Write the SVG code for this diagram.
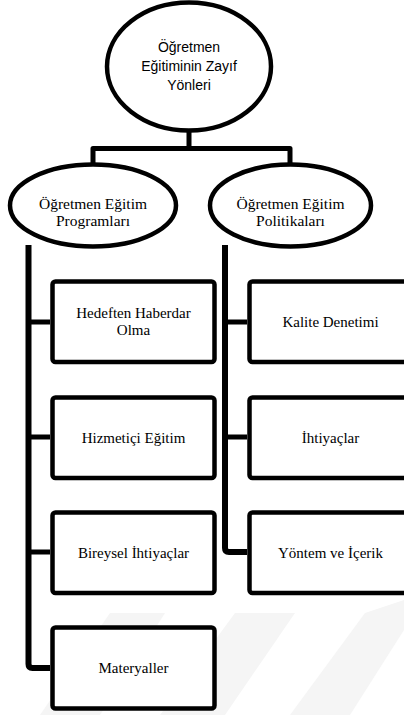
<svg xmlns="http://www.w3.org/2000/svg" width="404" height="715" viewBox="0 0 404 715">
<style>
.shape{fill:#fff;stroke:#000;stroke-width:4.5}
.conn{fill:none;stroke:#000;stroke-width:5;stroke-linejoin:round}
.wm{fill:#f5f5f5}
</style>
<rect width="404" height="715" fill="#fff"/>
<g id="watermark">
<polygon class="wm" points="40,715 100,715 165,613 110,613"/>
<polygon class="wm" points="160,715 225,715 295,613 235,613"/>
<polygon class="wm" points="290,715 350,715 404,630 404,600 365,613"/>
</g>
<g id="connectors">
<path class="conn" d="M189,131 V148.5 M93,164 V148.5 H290 V164"/>
<path class="conn" style="stroke-width:6" d="M28.5,245 V664 Q28.5,668 32.5,668 H50"/>
<path class="conn" d="M28.5,322 H50 M28.5,437 H50 M28.5,552 H50"/>
<path class="conn" style="stroke-width:6" d="M225,245 V548 Q225,552 229,552 H247"/>
<path class="conn" d="M225,322 H247 M225,437 H247"/>
</g>
<g id="root" font-family="'Liberation Sans', Arial, sans-serif" font-size="14" text-anchor="middle" fill="#000">
<ellipse class="shape" cx="189" cy="66.5" rx="82" ry="64"/>
<text x="189" y="52">Öğretmen</text>
<text x="189" y="71">Eğitiminin Zayıf</text>
<text x="189" y="90">Yönleri</text>
</g>
<g font-family="'Liberation Serif', 'Times New Roman', 'DejaVu Serif', serif" text-anchor="middle" fill="#000">
<g id="programlar" font-size="15.5">
<ellipse class="shape" cx="93" cy="205.5" rx="83" ry="41"/>
<text x="93" y="209">Öğretmen Eğitim</text>
<text x="93" y="226">Programları</text>
</g>
<g id="politikalar" font-size="15.5">
<ellipse class="shape" cx="290.5" cy="205.5" rx="80.5" ry="41"/>
<text x="290.5" y="209">Öğretmen Eğitim</text>
<text x="290.5" y="226">Politikaları</text>
</g>
<g id="hedef" font-size="15">
<rect class="shape" x="52.5" y="281.5" width="162" height="80.5" rx="3"/>
<text x="133.5" y="318">Hedeften Haberdar</text>
<text x="133.5" y="335">Olma</text>
</g>
<g id="hizmetici" font-size="15">
<rect class="shape" x="52.5" y="397.5" width="162" height="80.5" rx="3"/>
<text x="133.5" y="443">Hizmetiçi Eğitim</text>
</g>
<g id="bireysel" font-size="15">
<rect class="shape" x="52.5" y="512.5" width="162" height="80.5" rx="3"/>
<text x="133.5" y="558">Bireysel İhtiyaçlar</text>
</g>
<g id="materyaller" font-size="15">
<rect class="shape" x="52.5" y="627.5" width="162" height="81" rx="3"/>
<text x="133.5" y="673">Materyaller</text>
</g>
<g id="kalite" font-size="15">
<rect class="shape" x="249.5" y="281.5" width="162" height="80.5" rx="3"/>
<text x="330.5" y="327">Kalite Denetimi</text>
</g>
<g id="ihtiyaclar" font-size="15">
<rect class="shape" x="249.5" y="397.5" width="162" height="80.5" rx="3"/>
<text x="330.5" y="443">İhtiyaçlar</text>
</g>
<g id="yontem" font-size="15">
<rect class="shape" x="249.5" y="512.5" width="162" height="80.5" rx="3"/>
<text x="330.5" y="558">Yöntem ve İçerik</text>
</g>
</g>
</svg>
